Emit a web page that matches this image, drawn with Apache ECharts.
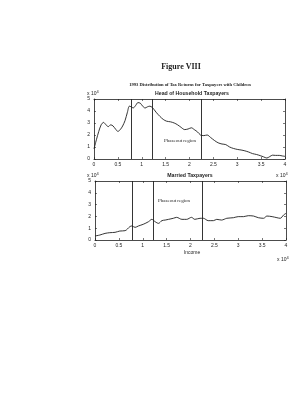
<!DOCTYPE html>
<html>
<head>
<meta charset="utf-8">
<script src="https://cdn.jsdelivr.net/npm/echarts@6/dist/echarts.min.js"></script>
<style>
  html, body { margin: 0; padding: 0; background: #fff; }
  #chart { width: 305px; height: 400px; }
</style>
</head>
<body>
<div id="chart"></div>
<script>
// income (x 10^4) vs. number of returns (x 10^4)
const hohReturns = [
  [0, 0.85], [0.05, 1.6], [0.1, 2.3], [0.15, 2.85], [0.2, 3.05], [0.25, 2.85], [0.3, 2.7],
  [0.35, 2.85], [0.4, 2.75], [0.45, 2.5], [0.5, 2.3], [0.55, 2.45], [0.6, 2.75], [0.65, 3.2],
  [0.7, 3.9], [0.74, 4.4], [0.78, 4.35], [0.82, 4.25], [0.87, 4.45], [0.92, 4.7], [0.97, 4.65],
  [1.02, 4.4], [1.07, 4.25], [1.12, 4.35], [1.17, 4.4], [1.22, 4.3], [1.3, 3.9], [1.38, 3.55],
  [1.45, 3.3], [1.52, 3.15], [1.6, 3.1], [1.68, 3.0], [1.75, 2.85], [1.82, 2.65], [1.9, 2.45],
  [1.97, 2.5], [2.04, 2.6], [2.1, 2.45], [2.17, 2.25], [2.23, 2.0], [2.3, 1.95], [2.37, 2.0],
  [2.44, 1.8], [2.52, 1.55], [2.6, 1.35], [2.68, 1.25], [2.76, 1.2], [2.84, 1.0], [2.92, 0.88],
  [3.0, 0.8], [3.08, 0.75], [3.16, 0.68], [3.24, 0.58], [3.32, 0.45], [3.4, 0.38], [3.48, 0.28],
  [3.55, 0.18], [3.62, 0.08], [3.68, 0.2], [3.74, 0.32], [3.8, 0.3], [3.88, 0.3], [3.95, 0.25],
  [4.0, 0.22]
];
const marriedReturns = [
  [0, 0.34], [0.1, 0.42], [0.21, 0.56], [0.31, 0.62], [0.42, 0.65], [0.52, 0.76], [0.63, 0.79],
  [0.73, 1.13], [0.77, 1.19], [0.84, 1.07], [0.91, 1.19], [1.01, 1.33], [1.12, 1.55], [1.19, 1.75],
  [1.26, 1.55], [1.33, 1.41], [1.4, 1.64], [1.47, 1.69], [1.54, 1.75], [1.64, 1.84], [1.71, 1.92],
  [1.82, 1.75], [1.92, 1.75], [2.02, 1.92], [2.09, 1.75], [2.2, 1.84], [2.27, 1.84], [2.37, 1.64],
  [2.48, 1.64], [2.55, 1.75], [2.65, 1.69], [2.76, 1.84], [2.9, 1.89], [3.0, 1.98], [3.11, 1.98],
  [3.21, 2.06], [3.32, 2.03], [3.42, 1.89], [3.53, 1.84], [3.6, 2.03], [3.71, 1.98], [3.81, 1.89],
  [3.88, 1.84], [3.95, 2.12], [4.0, 2.26]
];
// phase-in end, phaseout start, phaseout end
const phaseLines = [0.77, 1.21, 2.25];

const sans = 'Liberation Sans';
const serif = 'Liberation Serif';
const ink = '#1e1e1e';

const grids = [
  { left: 94, top: 99, width: 191, height: 60 },
  { left: 95, top: 181, width: 191, height: 59 }
];

const xAxes = [], yAxes = [];
grids.forEach((g, i) => {
  xAxes.push({
    type: 'value', gridIndex: i, min: 0, max: 4, interval: 0.5,
    axisLine: { onZero: false, lineStyle: { color: ink, width: 0.8 } },
    axisTick: { inside: true, length: 2, lineStyle: { color: ink, width: 0.6 } },
    axisLabel: { fontSize: 5, color: ink, fontFamily: sans, margin: 3 },
    splitLine: { show: false }
  });
  xAxes.push({
    type: 'value', gridIndex: i, min: 0, max: 4, interval: 0.5, position: 'top',
    axisLine: { show: true, onZero: false, lineStyle: { color: ink, width: 0.8 } },
    axisTick: { show: true, inside: true, length: 2, lineStyle: { color: ink, width: 0.6 } },
    axisLabel: { show: false }, splitLine: { show: false }
  });
  yAxes.push({
    type: 'value', gridIndex: i, min: 0, max: 5, interval: 1,
    axisLine: { show: true, onZero: false, lineStyle: { color: ink, width: 0.8 } },
    axisTick: { show: true, inside: true, length: 2, lineStyle: { color: ink, width: 0.6 } },
    axisLabel: { fontSize: 5, color: ink, fontFamily: sans, margin: 4 },
    splitLine: { show: false }
  });
  yAxes.push({
    type: 'value', gridIndex: i, min: 0, max: 5, interval: 1, position: 'right',
    axisLine: { show: true, onZero: false, lineStyle: { color: ink, width: 0.8 } },
    axisTick: { show: true, inside: true, length: 2, lineStyle: { color: ink, width: 0.6 } },
    axisLabel: { show: false }, splitLine: { show: false }
  });
});

const phaseMark = {
  silent: true, symbol: 'none', label: { show: false },
  lineStyle: { color: ink, type: 'solid', width: 0.9 },
  data: phaseLines.map(v => ({ xAxis: v }))
};

const exp = (x, y) => ({
  type: 'text', left: x, top: y,
  style: {
    text: 'x 10{s|4}', fontSize: 5, fill: ink, fontFamily: sans,
    rich: { s: { fontSize: 4, verticalAlign: 'top', padding: [0, 0, 3, 0] } }
  }
});
const txt = (x, y, text, size, font, weight) => ({
  type: 'text', x: x, y: y,
  style: { text: text, fontSize: size, fill: ink, fontFamily: font, fontWeight: weight || 'normal', align: 'center', verticalAlign: 'middle' }
});

const option = {
  animation: false,
  backgroundColor: '#fff',
  grid: grids,
  xAxis: xAxes,
  yAxis: yAxes,
  series: [
    {
      type: 'line', xAxisIndex: 0, yAxisIndex: 0, data: hohReturns, showSymbol: false,
      smooth: 0.3, lineStyle: { color: ink, width: 0.9 }, markLine: phaseMark
    },
    {
      type: 'line', xAxisIndex: 2, yAxisIndex: 2, data: marriedReturns, showSymbol: false,
      smooth: 0.3, lineStyle: { color: ink, width: 0.9 }, markLine: phaseMark
    }
  ],
  graphic: [
    txt(181, 67, 'Figure VIII', 8, serif, 'bold'),
    txt(190, 85, '1993 Distribution of Tax Returns for Taxpayers with Children', 4.6, serif, 'bold'),
    txt(192, 94, 'Head of Household Taxpayers', 5.2, sans, 'bold'),
    txt(190, 176, 'Married Taxpayers', 5.2, sans, 'bold'),
    txt(180, 141, 'Phaseout region', 5, serif),
    txt(174, 201, 'Phaseout region', 5, serif),
    txt(192, 253, 'Income', 5, sans),
    exp(87, 90), exp(276, 172), exp(87, 172), exp(277, 256)
  ]
};

const chart = echarts.init(document.getElementById('chart'), null, { renderer: 'canvas' });
chart.setOption(option);
</script>
</body>
</html>
